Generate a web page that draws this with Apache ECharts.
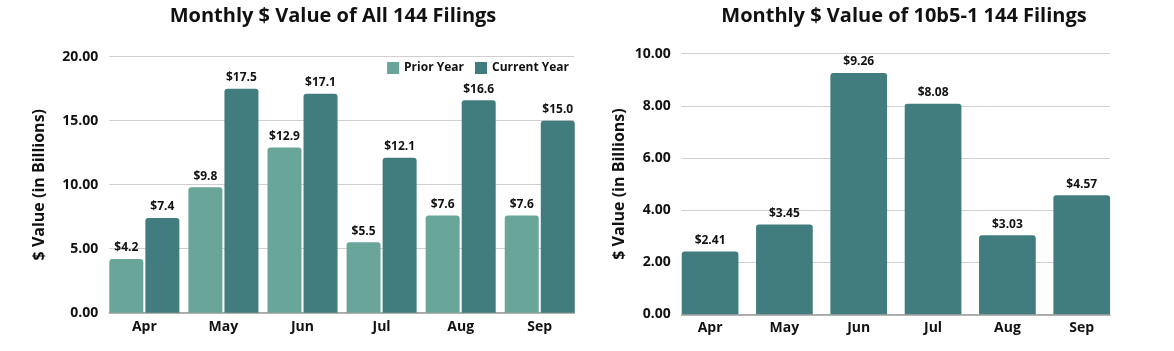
<!DOCTYPE html>
<html><head><meta charset="utf-8">
<script src="https://cdn.jsdelivr.net/npm/echarts@6/dist/echarts.min.js"></script>
<style>html,body{margin:0;padding:0;background:#fff}#c{width:1174px;height:351px}</style>
</head><body><div id="c"></div>
<script>
const months = ['Apr','May','Jun','Jul','Aug','Sep'];
const priorYear = [4.2, 9.8, 12.9, 5.5, 7.6, 7.6];
const currentYear = [7.4, 17.5, 17.1, 12.1, 16.6, 15.0];
const plan10b5 = [2.41, 3.45, 9.26, 8.08, 3.03, 4.57];
const leftTicks = {min: 0, max: 20, interval: 5};
const rightTicks = {min: 0, max: 10, interval: 2};

const FONT = '"Open Sans", sans-serif';
const C_PRIOR = '#6aa59a';
const C_CUR = '#417c7e';
const TXT = '#111';
const chart = echarts.init(document.getElementById('c'));

// main (data) axes: carry bars + category labels
const xMain = gi => ({
  type: 'category', gridIndex: gi, data: months,
  axisLabel: {fontFamily: FONT, fontWeight: 'bold', fontSize: 14, color: TXT, margin: 7},
  axisLine: {show: false}, axisTick: {show: false}
});
const yMain = (gi, t) => ({
  type: 'value', gridIndex: gi, min: t.min, max: t.max, interval: t.interval, show: false,
  splitLine: {show: false}
});
// overlay axes: gridlines, tick labels, baseline, names (span only the bars)
const xOver = gi => ({
  type: 'category', gridIndex: gi, data: months,
  axisLabel: {show: false}, axisTick: {show: false},
  axisLine: {lineStyle: {color: '#9a9a9a', width: 1.5}}
});
const yOver = (gi, t, gap) => ({
  type: 'value', gridIndex: gi, min: t.min, max: t.max, interval: t.interval,
  name: '$ Value (in Billions)', nameLocation: 'middle', nameGap: gap,
  nameTextStyle: {fontFamily: FONT, fontWeight: 'bold', fontSize: 16, color: TXT},
  axisLabel: {formatter: v => v.toFixed(2), fontFamily: FONT, fontWeight: 'bold', fontSize: 14, color: TXT, margin: 11},
  splitLine: {lineStyle: {color: '#cfcfcf', width: 1}},
  axisLine: {show: false}, axisTick: {show: false}
});
const lbl = d => ({show: true, position: 'top', distance: 5, fontFamily: FONT, fontWeight: 'bold', fontSize: 12, color: TXT,
  formatter: p => '$' + p.value.toFixed(d)});

chart.setOption({
  animation: false,
  title: [
    {text: 'Monthly $ Value of All 144 Filings', left: 328, top: 1, textAlign: 'center',
     textStyle: {fontFamily: FONT, fontWeight: 'bold', fontSize: 20, color: TXT}},
    {text: 'Monthly $ Value of 10b5-1 144 Filings', left: 899, top: 1, textAlign: 'center',
     textStyle: {fontFamily: FONT, fontWeight: 'bold', fontSize: 20, color: TXT}}
  ],
  legend: {data: ['Prior Year', 'Current Year'], right: 600, top: 57, itemWidth: 12, itemHeight: 12, itemGap: 11,
    icon: 'rect', textStyle: {fontFamily: FONT, fontWeight: 'bold', fontSize: 12, color: TXT, padding: [0, 0, 0, 0]}},
  grid: [
    {left: 104.8, right: 1174 - 579.3, top: 56.7, bottom: 38.3},
    {left: 109.3, right: 1174 - 574.3, top: 56.7, bottom: 38.3},
    {left: 672.9, right: 1174 - 1118.9, top: 53.7, bottom: 36.7},
    {left: 681.7, right: 1174 - 1110, top: 53.7, bottom: 36.7}
  ],
  xAxis: [xMain(0), xOver(1), xMain(2), xOver(3)],
  yAxis: [yMain(0, leftTicks), yOver(1, leftTicks, 62), yMain(2, rightTicks), yOver(3, rightTicks, 54)],
  series: [
    {name: 'Prior Year', type: 'bar', xAxisIndex: 0, yAxisIndex: 0, data: priorYear, barWidth: 34, barGap: '6%',
     itemStyle: {color: C_PRIOR, borderRadius: [3, 3, 0, 0]}, label: lbl(1), z: 3},
    {name: 'Current Year', type: 'bar', xAxisIndex: 0, yAxisIndex: 0, data: currentYear, barWidth: 34, barGap: '6%',
     itemStyle: {color: C_CUR, borderRadius: [3, 3, 0, 0]}, label: lbl(1), z: 3},
    {name: '10b5-1', type: 'bar', xAxisIndex: 2, yAxisIndex: 2, data: plan10b5, barWidth: 56.7,
     itemStyle: {color: C_CUR, borderRadius: [3, 3, 0, 0]}, label: lbl(2), z: 3}
  ]
});
</script></body></html>
